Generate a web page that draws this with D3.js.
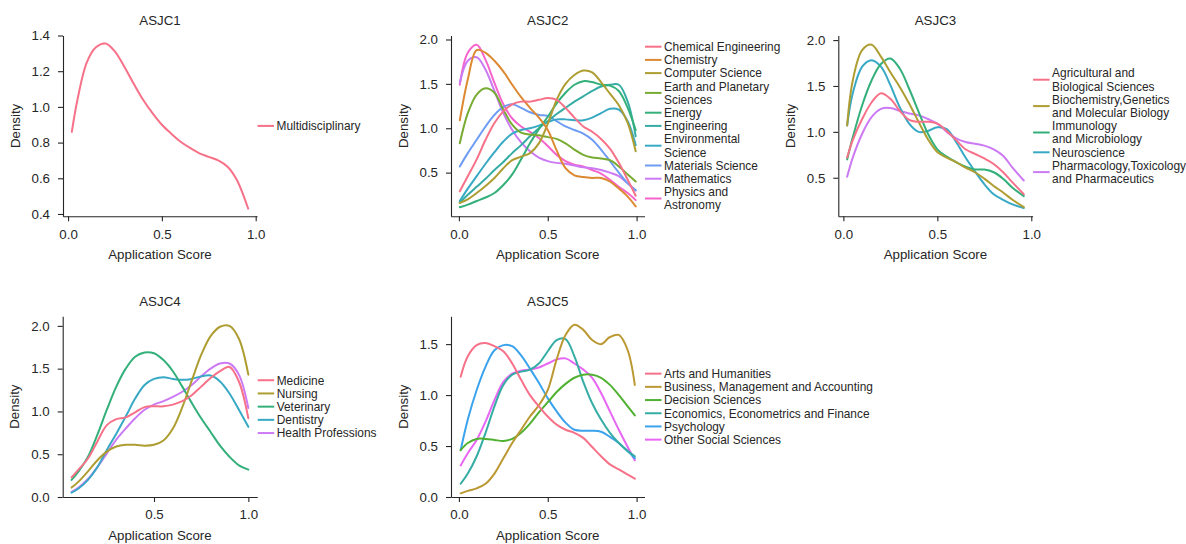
<!DOCTYPE html>
<html><head><meta charset="utf-8">
<script src="https://cdn.jsdelivr.net/npm/d3@7"></script>
<style>body{margin:0;background:#fff}</style>
</head><body><svg id="chart" width="1186" height="544"></svg>
<script>
// ---------------- DATA ----------------
const xTicks01 = [0.0, 0.5, 1.0];
const xTicks4 = [0.5, 1.0];
const asjc1YTicks = [0.4, 0.6, 0.8, 1.0, 1.2, 1.4];
const asjc2YTicks = [0.5, 1.0, 1.5, 2.0];
const asjc3YTicks = [0.5, 1.0, 1.5, 2.0];
const asjc4YTicks = [0.0, 0.5, 1.0, 1.5, 2.0];
const asjc5YTicks = [0.0, 0.5, 1.0, 1.5];

const asjc1Categories = ["Multidisciplinary"];
const asjc1X = [0.02,0.05,0.1,0.15,0.2,0.25,0.3,0.35,0.4,0.45,0.5,0.55,0.6,0.65,0.7,0.75,0.8,0.85,0.9,0.96];
const asjc1Values = [
  [0.86,1.04,1.25,1.335,1.355,1.31,1.225,1.13,1.04,0.965,0.90,0.85,0.805,0.77,0.74,0.72,0.70,0.665,0.59,0.43]
];

const asjc2Categories = ["Chemical Engineering","Chemistry","Computer Science","Earth and Planetary\nSciences","Energy","Engineering","Environmental\nScience","Materials Science","Mathematics","Physics and\nAstronomy"];
const asjc2X = [0.005,0.05,0.1,0.15,0.2,0.25,0.3,0.35,0.4,0.45,0.5,0.55,0.6,0.65,0.7,0.75,0.8,0.85,0.9,0.95,0.995];
const asjc2Values = [
  [0.29,0.46,0.65,0.87,1.06,1.19,1.27,1.30,1.30,1.32,1.34,1.32,1.23,1.12,1.02,0.96,0.88,0.77,0.61,0.42,0.24],
  [1.09,1.55,1.88,1.85,1.76,1.64,1.49,1.35,1.23,1.12,0.98,0.75,0.55,0.47,0.45,0.44,0.44,0.40,0.32,0.23,0.12],
  [0.16,0.20,0.27,0.35,0.44,0.55,0.64,0.68,0.72,0.83,1.05,1.32,1.50,1.60,1.65,1.63,1.52,1.39,1.26,1.06,0.74],
  [0.83,1.17,1.38,1.45,1.40,1.21,1.04,0.95,0.93,0.92,0.90,0.88,0.83,0.76,0.70,0.67,0.66,0.64,0.57,0.48,0.40],
  [0.11,0.14,0.18,0.22,0.27,0.36,0.48,0.65,0.83,0.99,1.13,1.28,1.40,1.49,1.53,1.52,1.49,1.48,1.42,1.23,0.98],
  [0.16,0.25,0.34,0.43,0.53,0.62,0.72,0.81,0.91,1.00,1.08,1.16,1.23,1.30,1.36,1.42,1.47,1.49,1.49,1.30,0.91],
  [0.18,0.32,0.46,0.60,0.73,0.85,0.94,0.98,1.00,1.03,1.07,1.10,1.10,1.09,1.09,1.12,1.17,1.22,1.21,1.08,0.81],
  [0.57,0.72,0.87,1.02,1.15,1.24,1.27,1.23,1.18,1.15,1.14,1.08,1.02,0.98,0.94,0.87,0.76,0.63,0.50,0.38,0.30],
  [1.51,1.76,1.80,1.66,1.42,1.17,0.98,0.84,0.74,0.67,0.63,0.61,0.60,0.58,0.56,0.55,0.53,0.50,0.46,0.38,0.30],
  [1.49,1.85,1.94,1.77,1.51,1.27,1.11,1.02,0.96,0.89,0.80,0.70,0.63,0.59,0.57,0.53,0.49,0.42,0.34,0.27,0.19]
];

const asjc3Categories = ["Agricultural and\nBiological Sciences","Biochemistry,Genetics\nand Molecular Biology","Immunology\nand Microbiology","Neuroscience","Pharmacology,Toxicology\nand Pharmaceutics"];
const asjc3X = [0.02,0.05,0.1,0.15,0.2,0.25,0.3,0.35,0.4,0.45,0.5,0.55,0.6,0.65,0.7,0.75,0.8,0.85,0.9,0.96];
const asjc3Values = [
  [0.72,0.91,1.14,1.32,1.42,1.36,1.23,1.13,1.11,1.11,1.09,1.01,0.91,0.81,0.76,0.71,0.65,0.56,0.45,0.32],
  [1.07,1.56,1.89,1.95,1.82,1.65,1.49,1.31,1.11,0.92,0.78,0.72,0.67,0.61,0.56,0.49,0.41,0.34,0.26,0.18],
  [0.70,0.94,1.29,1.56,1.74,1.80,1.69,1.47,1.22,0.98,0.81,0.73,0.67,0.62,0.59,0.59,0.56,0.49,0.39,0.30],
  [1.07,1.42,1.71,1.78,1.71,1.51,1.27,1.09,1.00,1.01,1.05,1.03,0.89,0.72,0.57,0.43,0.32,0.26,0.21,0.17],
  [0.51,0.72,0.98,1.16,1.25,1.26,1.23,1.20,1.18,1.14,1.09,1.00,0.93,0.89,0.87,0.85,0.81,0.74,0.61,0.47]
];

const asjc4Categories = ["Medicine","Nursing","Veterinary","Dentistry","Health Professions"];
const asjc4X = [0.063,0.1,0.15,0.2,0.25,0.3,0.35,0.4,0.45,0.5,0.55,0.6,0.65,0.7,0.75,0.8,0.85,0.9,0.95,1.0];
const asjc4Values = [
  [0.23,0.32,0.45,0.65,0.84,0.91,0.93,0.99,1.05,1.06,1.06,1.08,1.12,1.19,1.29,1.39,1.47,1.52,1.35,0.92],
  [0.11,0.18,0.30,0.43,0.53,0.59,0.61,0.61,0.60,0.61,0.66,0.80,1.05,1.36,1.66,1.88,1.99,2.00,1.85,1.43],
  [0.20,0.30,0.47,0.73,1.02,1.29,1.50,1.64,1.69,1.68,1.60,1.47,1.29,1.10,0.92,0.76,0.60,0.47,0.37,0.32],
  [0.05,0.10,0.20,0.35,0.55,0.74,0.94,1.15,1.31,1.38,1.40,1.38,1.37,1.38,1.41,1.42,1.35,1.21,1.02,0.82],
  [0.06,0.11,0.21,0.35,0.51,0.67,0.80,0.92,1.02,1.08,1.12,1.17,1.23,1.31,1.41,1.50,1.56,1.56,1.43,1.04]
];

const asjc5Categories = ["Arts and Humanities","Business, Management and Accounting","Decision Sciences","Economics, Econometrics and Finance","Psychology","Other Social Sciences"];
const asjc5X = [0.01,0.05,0.1,0.15,0.2,0.25,0.3,0.35,0.4,0.45,0.5,0.55,0.6,0.65,0.7,0.75,0.8,0.85,0.9,0.95,0.99];
const asjc5Values = [
  [1.18,1.38,1.49,1.51,1.48,1.43,1.31,1.15,1.00,0.89,0.79,0.71,0.66,0.63,0.58,0.49,0.40,0.32,0.27,0.22,0.18],
  [0.036,0.06,0.085,0.13,0.23,0.38,0.53,0.66,0.79,0.90,1.05,1.35,1.59,1.69,1.64,1.54,1.50,1.57,1.59,1.44,1.10],
  [0.46,0.53,0.57,0.57,0.56,0.55,0.57,0.63,0.72,0.83,0.93,1.03,1.11,1.17,1.20,1.20,1.17,1.10,1.00,0.89,0.80],
  [0.13,0.23,0.40,0.63,0.89,1.10,1.20,1.23,1.25,1.31,1.43,1.54,1.55,1.38,1.13,0.92,0.76,0.63,0.53,0.45,0.40],
  [0.46,0.76,1.05,1.28,1.44,1.49,1.48,1.39,1.26,1.12,0.97,0.84,0.73,0.66,0.65,0.65,0.64,0.59,0.53,0.45,0.38],
  [0.31,0.43,0.56,0.74,0.95,1.13,1.21,1.24,1.25,1.27,1.31,1.35,1.36,1.31,1.25,1.17,1.02,0.84,0.66,0.49,0.36]
];

// ---------------- STYLE / LAYOUT ----------------
const husl10 = ['#f77189','#dc8932','#ae9d31','#77ab31','#33b07a','#36ada4','#38a9c5','#6e9bf4','#cc7af4','#f565cc'];
const husl5 = ['#f77189','#ae9d31','#33b07a','#38a9c5','#cc7af4'];
const husl6 = ['#f77189','#bb9832','#50b131','#36ada4','#3ba3ec','#e866f4'];
const husl1 = ['#f77189'];

const FONT = "'Liberation Sans', Arial, Helvetica, sans-serif";
const INK = '#262626';

const panels = [
  {title:'ASJC1', cats:asjc1Categories, xs:asjc1X, vals:asjc1Values, colors:husl1, xDomain:[-0.027,1.007], yDomain:[0.387,1.40], xTicks:xTicks01, yTicks:asjc1YTicks, l:63, t:35.5, w:194, h:180.8},
  {title:'ASJC2', cats:asjc2Categories, xs:asjc2X, vals:asjc2Values, colors:husl10, xDomain:[-0.0445,1.0445], yDomain:[0.008,2.045], xTicks:xTicks01, yTicks:asjc2YTicks, l:451, t:35.5, w:193.5, h:180.8},
  {title:'ASJC3', cats:asjc3Categories, xs:asjc3X, vals:asjc3Values, colors:husl5, xDomain:[-0.027,1.007], yDomain:[0.08,2.05], xTicks:xTicks01, yTicks:asjc3YTicks, l:838.3, t:35.5, w:194.3, h:180.8},
  {title:'ASJC4', cats:asjc4Categories, xs:asjc4X, vals:asjc4Values, colors:husl5, xDomain:[0.016,1.047], yDomain:[0,2.112], xTicks:xTicks4, yTicks:asjc4YTicks, l:62.7, t:316.3, w:194.5, h:180.7},
  {title:'ASJC5', cats:asjc5Categories, xs:asjc5X, vals:asjc5Values, colors:husl6, xDomain:[-0.0445,1.0445], yDomain:[0,1.773], xTicks:xTicks01, yTicks:asjc5YTicks, l:451, t:316.3, w:193.5, h:180.7}
];

const svg = d3.select('#chart');
svg.append('rect').attr('width',1186).attr('height',544).attr('fill','#fff');

const fmt = d3.format('.1f');

panels.forEach(p => {
  const x = d3.scaleLinear().domain(p.xDomain).range([p.l, p.l + p.w]);
  const y = d3.scaleLinear().domain(p.yDomain).range([p.t + p.h, p.t]);
  const g = svg.append('g');

  // curves (first category drawn last -> on top)
  const line = d3.line().x(d => x(d[0])).y(d => y(d[1])).curve(d3.curveCatmullRom.alpha(0.5));
  const idx = d3.range(p.cats.length).reverse();
  idx.forEach(i => {
    const pts = p.xs.map((xv, j) => [xv, p.vals[i][j]]);
    g.append('path').datum(pts).attr('d', line)
      .attr('fill','none').attr('stroke', p.colors[i]).attr('stroke-width', 2)
      .attr('stroke-linecap','round').attr('stroke-linejoin','round');
  });

  // axes
  const xa = d3.axisBottom(x).tickValues(p.xTicks).tickFormat(fmt).tickSize(5).tickPadding(8).tickSizeOuter(0);
  const ya = d3.axisLeft(y).tickValues(p.yTicks).tickFormat(fmt).tickSize(5).tickPadding(8).tickSizeOuter(0);
  const gx = g.append('g').attr('transform', `translate(0,${p.t + p.h})`).call(xa);
  const gy = g.append('g').attr('transform', `translate(${p.l},0)`).call(ya);
  [gx, gy].forEach(a => {
    a.select('.domain').attr('stroke', INK).attr('stroke-width', 1.1);
    a.selectAll('.tick line').attr('stroke', INK).attr('stroke-width', 1.1);
    a.selectAll('.tick text').attr('fill', INK).style('font-family', FONT).style('font-size', '13.3px');
  });

  // title
  g.append('text').attr('x', p.l + p.w / 2).attr('y', p.t - 10.5)
    .attr('text-anchor','middle').attr('fill', INK)
    .style('font-family', FONT).style('font-size','13.3px').text(p.title);
  // axis labels
  g.append('text').attr('x', p.l + p.w / 2).attr('y', p.t + p.h + 43)
    .attr('text-anchor','middle').attr('fill', INK)
    .style('font-family', FONT).style('font-size','13.3px').text('Application Score');
  g.append('text').attr('transform', `translate(${p.l - 43.5},${p.t + p.h / 2}) rotate(-90)`)
    .attr('text-anchor','middle').attr('fill', INK)
    .style('font-family', FONT).style('font-size','13.3px').text('Density');

  // legend
  const pitch = 13.2;
  const entries = p.cats.map(c => c.split('\n'));
  const totalLines = d3.sum(entries, e => e.length);
  const cy = p.t + p.h / 2;
  let lineIdx = 0;
  const lx = p.l + p.w;
  entries.forEach((lines, i) => {
    const centers = lines.map((_, k) => cy + (lineIdx + k - (totalLines - 1) / 2) * pitch);
    const my = d3.mean(centers);
    g.append('line').attr('x1', lx + 0.5).attr('x2', lx + 17).attr('y1', my).attr('y2', my)
      .attr('stroke', p.colors[i]).attr('stroke-width', 2);
    lines.forEach((txt, k) => {
      g.append('text').attr('x', lx + 19.5).attr('y', centers[k] + 4.3)
        .attr('fill', INK).style('font-family', FONT).style('font-size','11.9px').text(txt);
    });
    lineIdx += lines.length;
  });
});
</script>
</body></html>
